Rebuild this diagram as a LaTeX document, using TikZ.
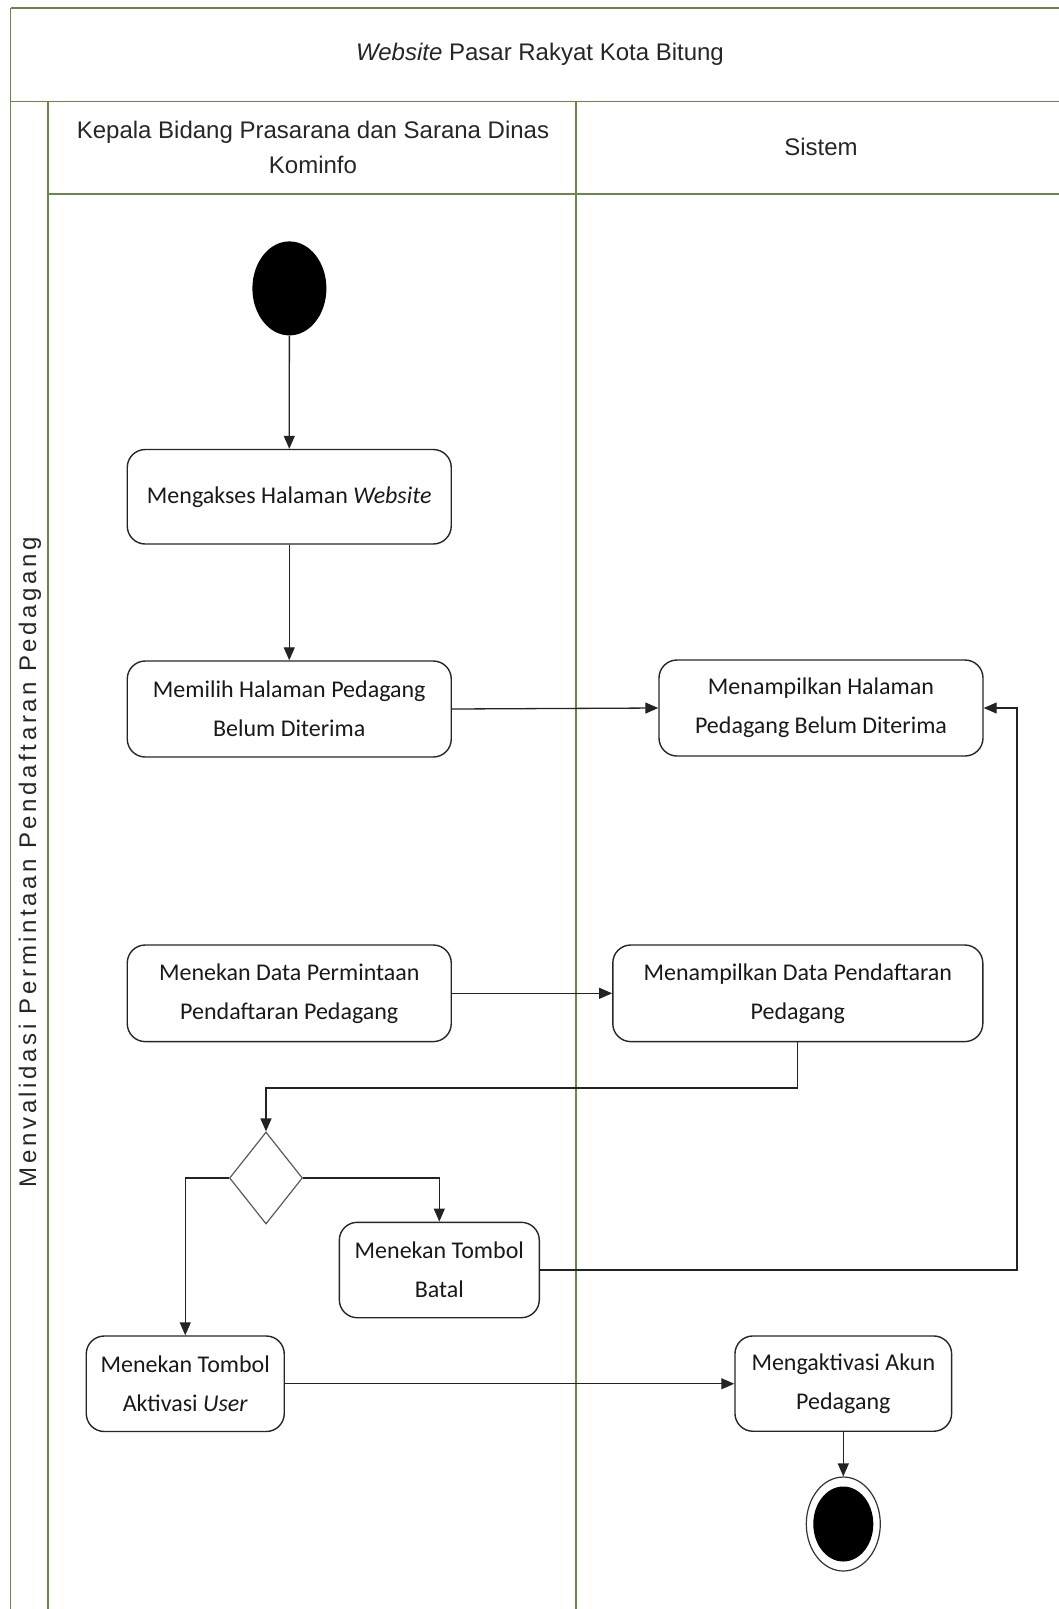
\documentclass[tikz,border=0pt]{standalone}
\usepackage{fontspec}
\setmainfont{Liberation Sans}
\newfontfamily\nodefont{Carlito}
\usetikzlibrary{arrows.meta,shapes.geometric}

\definecolor{lanegreen}{RGB}{104,134,76}
\definecolor{flowline}{RGB}{35,35,35}

\begin{document}
\begin{tikzpicture}[x=1pt,y=-1pt,
  lane/.style={draw=lanegreen, line width=1.8pt},
  headtext/.style={font=\fontsize{24}{35}\selectfont, align=center, text=black!85},
  action/.style={draw=black!85, line width=1.4pt, rounded corners=18pt,
    font=\nodefont\fontsize{24}{39}\selectfont, align=center, inner sep=0pt, text=black!90},
  flow/.style={draw=flowline, line width=1.3pt, -{Triangle[length=13pt,width=11pt]}},
  choice/.style={diamond, draw=black!65, line width=1.2pt, inner sep=0pt,
    minimum width=73pt, minimum height=92pt},
  dot/.style={ellipse, fill=black, inner sep=0pt}
]
\useasboundingbox (0,0) rectangle (1059,1609);

% swimlane frame
\draw[lane] (10.5,8) -- (1059,8);
\draw[lane] (10.5,8) -- (10.5,1609);
\draw[lane] (10.5,101.5) -- (1059,101.5);
\draw[lane] (48,101.5) -- (48,1609);
\draw[lane] (48,194) -- (1059,194);
\draw[lane] (576,101.5) -- (576,1609);

% headings
\node[headtext] (title) at (540,54) {\textit{Website} Pasar Rakyat Kota Bitung};
\node[headtext] (lane1) at (313,147) {Kepala Bidang Prasarana dan Sarana Dinas\\Kominfo};
\node[headtext] (lane2) at (821,147) {Sistem};
\node[headtext, rotate=90] (process) at (30,862)
  {\addfontfeature{LetterSpace=15}Menvalidasi Permintaan Pendaftaran Pedagang};

% activity nodes
\node[dot, minimum width=74pt, minimum height=94pt] (start) at (289.4,288.4) {};
\node[action, minimum width=324pt, minimum height=94.5pt] (akses) at (289.25,496.75)
  {Mengakses Halaman \textit{Website}};
\node[action, minimum width=324pt, minimum height=96pt] (pilih) at (289.25,709)
  {Memilih Halaman Pedagang\\Belum Diterima};
\node[action, minimum width=324pt, minimum height=96pt] (tampil1) at (821,708)
  {Menampilkan Halaman\\Pedagang Belum Diterima};
\node[action, minimum width=324pt, minimum height=96.6pt] (tekan) at (289.25,993.3)
  {Menekan Data Permintaan\\Pendaftaran Pedagang};
\node[action, minimum width=370pt, minimum height=96.6pt] (tampil2) at (797.8,993.3)
  {Menampilkan Data Pendaftaran\\Pedagang};
\node[choice] (dec) at (266,1178) {};
\node[action, minimum width=200pt, minimum height=95.4pt] (batal) at (439.3,1270)
  {Menekan Tombol\\Batal};
\node[action, minimum width=198pt, minimum height=95.5pt] (aktivasi) at (185.25,1383.75)
  {Menekan Tombol\\Aktivasi \textit{User}};
\node[action, minimum width=216.7pt, minimum height=95.3pt] (aktif) at (843.3,1383.6)
  {Mengaktivasi Akun\\Pedagang};
\node[ellipse, draw=black!80, line width=1.2pt, fill=white, inner sep=0pt,
  minimum width=74pt, minimum height=94pt] (end) at (843.3,1524) {};
\node[dot, minimum width=60pt, minimum height=75pt] (endcore) at (843.3,1524) {};

\coordinate (backturn) at (1017,708);

% control flow
\draw[flow] (start) -- (akses);
\draw[flow] (akses) -- (pilih);
\draw[flow] (pilih.east) -- (tampil1.west);
\draw[flow] (tekan.east) -- (tampil2.west);
\draw[flow] (tampil2.south) -- (tampil2.south |- 0,1088) -| (dec.north);
\draw[flow] (dec.east) -| (batal.north);
\draw[flow] (dec.west) -| (aktivasi.north);
\draw[flow] (batal.east) -| (backturn) -- (tampil1.east);
\draw[flow] (aktivasi.east) -- (aktivasi.east -| aktif.west);
\draw[flow] (aktif) -- (end);
\end{tikzpicture}
\end{document}
